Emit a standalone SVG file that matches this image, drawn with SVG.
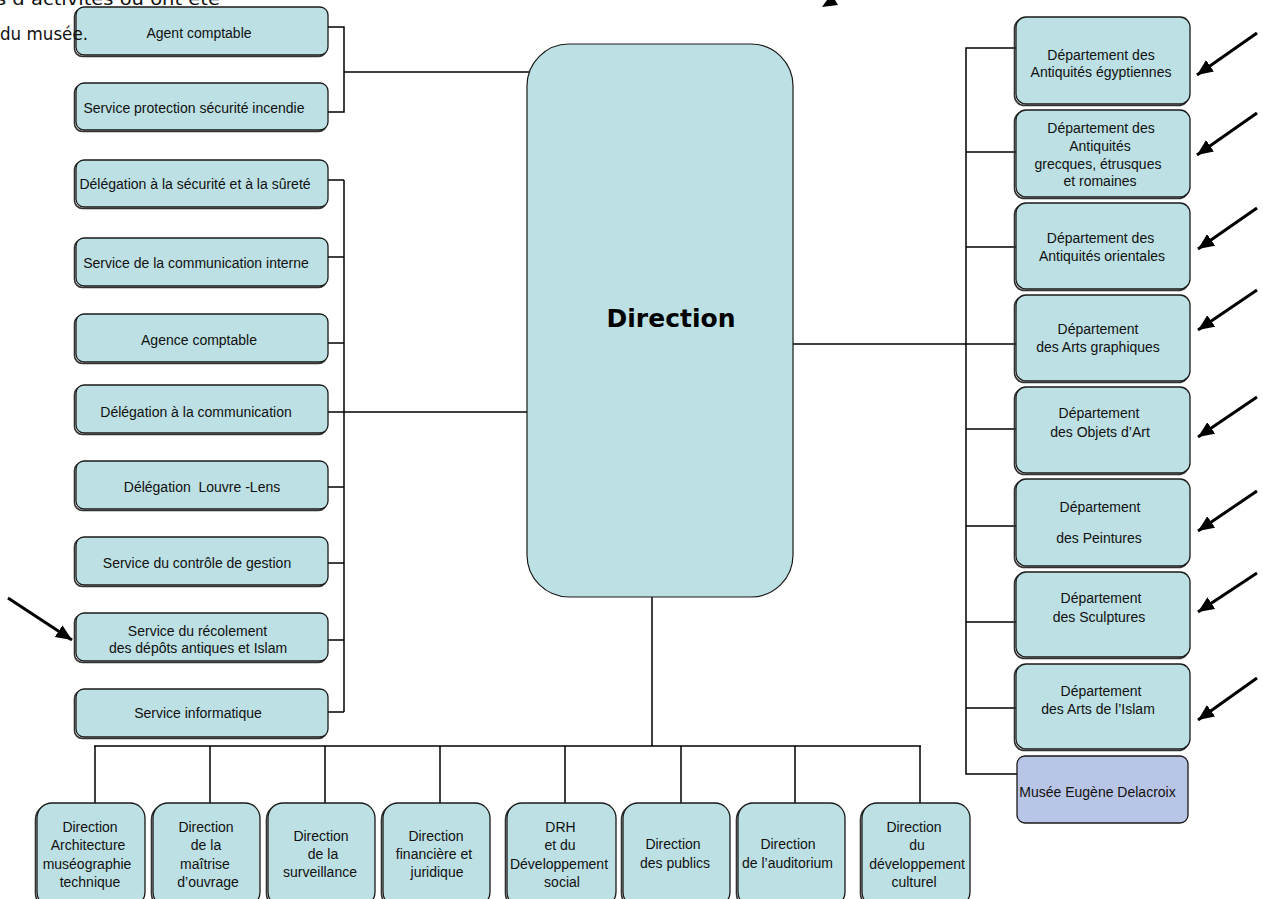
<svg xmlns="http://www.w3.org/2000/svg" width="1263" height="899" viewBox="0 0 1263 899">
<defs>
<style>
.bx{fill:#bce0e3;stroke:#1a1a1a;stroke-width:1.3}
.sh{fill:none;stroke:#333;stroke-width:1.6}
.mu{fill:#b9c5e6;stroke:#1a1a1a;stroke-width:1.3}
.t{font-family:"Liberation Sans",Arial,sans-serif;font-size:14px;fill:#111;text-anchor:middle}
.c{fill:none;stroke:#000;stroke-width:1.5}
.ar{fill:none;stroke:#000;stroke-width:3}
</style>
<marker id="ah" markerUnits="userSpaceOnUse" markerWidth="20" markerHeight="16" refX="16" refY="7" orient="auto">
<path d="M0,0 L16,7 L0,14 Z" fill="#000"/>
</marker>
</defs>
<rect width="1263" height="899" fill="#fff"/>

<g id="connectors">
<polyline class="c" points="328,27 344,27 344,112 328,112"/>
<line class="c" x1="344" y1="72" x2="530" y2="72"/>
<line class="c" x1="344" y1="180" x2="344" y2="712"/>
<line class="c" x1="328" y1="180" x2="344" y2="180"/>
<line class="c" x1="328" y1="257" x2="344" y2="257"/>
<line class="c" x1="328" y1="343" x2="344" y2="343"/>
<line class="c" x1="328" y1="412" x2="527" y2="412"/>
<line class="c" x1="328" y1="487" x2="344" y2="487"/>
<line class="c" x1="328" y1="563" x2="344" y2="563"/>
<line class="c" x1="328" y1="640" x2="344" y2="640"/>
<line class="c" x1="328" y1="712" x2="344" y2="712"/>
<line class="c" x1="793" y1="344" x2="966" y2="344"/>
<polyline class="c" points="1017,48 966,48 966,774 1017,774"/>
<line class="c" x1="966" y1="152" x2="1016" y2="152"/>
<line class="c" x1="966" y1="247" x2="1016" y2="247"/>
<line class="c" x1="966" y1="344" x2="1016" y2="344"/>
<line class="c" x1="966" y1="429" x2="1016" y2="429"/>
<line class="c" x1="966" y1="526" x2="1016" y2="526"/>
<line class="c" x1="966" y1="622" x2="1016" y2="622"/>
<line class="c" x1="966" y1="708" x2="1016" y2="708"/>
<line class="c" x1="652" y1="597" x2="652" y2="746"/>
<line class="c" x1="94" y1="746" x2="921" y2="746"/>
<line class="c" x1="95" y1="746" x2="95" y2="803"/>
<line class="c" x1="210" y1="746" x2="210" y2="803"/>
<line class="c" x1="325" y1="746" x2="325" y2="803"/>
<line class="c" x1="440" y1="746" x2="440" y2="803"/>
<line class="c" x1="565" y1="746" x2="565" y2="803"/>
<line class="c" x1="681" y1="746" x2="681" y2="803"/>
<line class="c" x1="795" y1="746" x2="795" y2="803"/>
<line class="c" x1="920" y1="746" x2="920" y2="803"/>
</g>

<g id="n-direction">
<rect x="527" y="44" width="266" height="553" rx="42" class="bx" style="stroke-width:1.2"/>
<text x="671" y="327" style="font-family:'DejaVu Sans',Verdana,sans-serif;font-weight:bold;font-size:25px;fill:#000;text-anchor:middle">Direction</text>
</g>

<g id="n-agent"><rect x="74.5" y="8.5" width="252" height="48" rx="8" class="sh"/><rect x="76" y="7" width="252" height="48" rx="8" class="bx"/><text x="199" y="38" class="t">Agent comptable</text></g>
<g id="n-spsi"><rect x="74.5" y="84.5" width="252" height="47" rx="8" class="sh"/><rect x="76" y="83" width="252" height="47" rx="8" class="bx"/><text x="194" y="113" class="t">Service protection sécurité incendie</text></g>
<g id="n-dss"><rect x="74.5" y="161.5" width="252" height="47" rx="8" class="sh"/><rect x="76" y="160" width="252" height="47" rx="8" class="bx"/><text x="195" y="189" class="t">Délégation à la sécurité et à la sûreté</text></g>
<g id="n-sci"><rect x="74.5" y="239.5" width="252" height="48" rx="8" class="sh"/><rect x="76" y="238" width="252" height="48" rx="8" class="bx"/><text x="196" y="268" class="t">Service de la communication interne</text></g>
<g id="n-ac"><rect x="74.5" y="315.5" width="252" height="48" rx="8" class="sh"/><rect x="76" y="314" width="252" height="48" rx="8" class="bx"/><text x="199" y="345" class="t">Agence comptable</text></g>
<g id="n-dc"><rect x="74.5" y="386.5" width="252" height="48" rx="8" class="sh"/><rect x="76" y="385" width="252" height="48" rx="8" class="bx"/><text x="196" y="417" class="t">Délégation à la communication</text></g>
<g id="n-dll"><rect x="74.5" y="462.5" width="252" height="48" rx="8" class="sh"/><rect x="76" y="461" width="252" height="48" rx="8" class="bx"/><text x="202" y="492" class="t" xml:space="preserve">Délégation  Louvre -Lens</text></g>
<g id="n-scg"><rect x="74.5" y="538.5" width="252" height="48" rx="8" class="sh"/><rect x="76" y="537" width="252" height="48" rx="8" class="bx"/><text x="197" y="568" class="t">Service du contrôle de gestion</text></g>
<g id="n-sr"><rect x="74.5" y="614.5" width="252" height="48" rx="8" class="sh"/><rect x="76" y="613" width="252" height="48" rx="8" class="bx"/><text x="197.5" y="636" class="t">Service du récolement</text><text x="198" y="653" class="t">des dépôts antiques et Islam</text></g>
<g id="n-si"><rect x="74.5" y="690.5" width="252" height="48" rx="8" class="sh"/><rect x="76" y="689" width="252" height="48" rx="8" class="bx"/><text x="198" y="718" class="t">Service informatique</text></g>

<g id="n-egy"><rect x="1014.5" y="18.5" width="174" height="87" rx="10" class="sh"/><rect x="1016" y="17" width="174" height="87" rx="10" class="bx"/><text x="1101" y="60" class="t">Département des</text><text x="1101" y="77" class="t">Antiquités égyptiennes</text></g>
<g id="n-grec"><rect x="1014.5" y="111.5" width="174" height="87" rx="10" class="sh"/><rect x="1016" y="110" width="174" height="87" rx="10" class="bx"/><text x="1101" y="133" class="t">Département des</text><text x="1100" y="150.5" class="t">Antiquités</text><text x="1098" y="168.5" class="t">grecques, étrusques</text><text x="1100" y="186" class="t">et romaines</text></g>
<g id="n-orient"><rect x="1014.5" y="204.5" width="174" height="86" rx="10" class="sh"/><rect x="1016" y="203" width="174" height="86" rx="10" class="bx"/><text x="1100.5" y="243" class="t">Département des</text><text x="1102" y="261" class="t">Antiquités orientales</text></g>
<g id="n-graph"><rect x="1014.5" y="296.5" width="174" height="86" rx="10" class="sh"/><rect x="1016" y="295" width="174" height="86" rx="10" class="bx"/><text x="1098" y="334" class="t">Département</text><text x="1098" y="352" class="t">des Arts graphiques</text></g>
<g id="n-objets"><rect x="1014.5" y="388.5" width="174" height="86" rx="10" class="sh"/><rect x="1016" y="387" width="174" height="86" rx="10" class="bx"/><text x="1099" y="418" class="t">Département</text><text x="1100" y="437" class="t">des Objets d’Art</text></g>
<g id="n-peint"><rect x="1014.5" y="480.5" width="174" height="87" rx="10" class="sh"/><rect x="1016" y="479" width="174" height="87" rx="10" class="bx"/><text x="1100" y="512" class="t">Département</text><text x="1099" y="543" class="t">des Peintures</text></g>
<g id="n-sculpt"><rect x="1014.5" y="573.5" width="174" height="85" rx="10" class="sh"/><rect x="1016" y="572" width="174" height="85" rx="10" class="bx"/><text x="1101" y="603" class="t">Département</text><text x="1099" y="622" class="t">des Sculptures</text></g>
<g id="n-islam"><rect x="1014.5" y="665.5" width="174" height="85" rx="10" class="sh"/><rect x="1016" y="664" width="174" height="85" rx="10" class="bx"/><text x="1101" y="696" class="t">Département</text><text x="1098" y="714" class="t">des Arts de l’Islam</text></g>
<g id="n-delacroix"><rect x="1017" y="756" width="171" height="67" rx="8" class="mu"/><text x="1097.5" y="797" class="t">Musée Eugène Delacroix</text></g>

<g id="n-archi"><rect x="35.5" y="804.5" width="108" height="104" rx="15" class="sh"/><rect x="37" y="803" width="108" height="104" rx="15" class="bx"/><text x="90" y="832" class="t">Direction</text><text x="88" y="850" class="t">Architecture</text><text x="87" y="869" class="t">muséographie</text><text x="90" y="887" class="t">technique</text></g>
<g id="n-moa"><rect x="151.5" y="804.5" width="107" height="104" rx="15" class="sh"/><rect x="153" y="803" width="107" height="104" rx="15" class="bx"/><text x="206" y="832" class="t">Direction</text><text x="206" y="850" class="t"> de la</text><text x="205" y="869" class="t">maîtrise</text><text x="208" y="887" class="t">d’ouvrage</text></g>
<g id="n-surv"><rect x="266.5" y="804.5" width="107" height="104" rx="15" class="sh"/><rect x="268" y="803" width="107" height="104" rx="15" class="bx"/><text x="321" y="841" class="t">Direction</text><text x="323" y="859" class="t">de la</text><text x="320" y="877" class="t">surveillance</text></g>
<g id="n-fin"><rect x="381.5" y="804.5" width="107" height="104" rx="15" class="sh"/><rect x="383" y="803" width="107" height="104" rx="15" class="bx"/><text x="436" y="841" class="t">Direction</text><text x="434" y="859" class="t">financière et</text><text x="437" y="877" class="t">juridique</text></g>
<g id="n-drh"><rect x="505.5" y="804.5" width="109" height="104" rx="15" class="sh"/><rect x="507" y="803" width="109" height="104" rx="15" class="bx"/><text x="560.5" y="832" class="t">DRH</text><text x="560" y="850" class="t">et du</text><text x="559" y="869" class="t">Développement</text><text x="562" y="887" class="t">social</text></g>
<g id="n-publics"><rect x="621.5" y="804.5" width="107" height="104" rx="15" class="sh"/><rect x="623" y="803" width="107" height="104" rx="15" class="bx"/><text x="673" y="849" class="t">Direction</text><text x="675" y="868" class="t">des publics</text></g>
<g id="n-audit"><rect x="736.5" y="804.5" width="107" height="104" rx="15" class="sh"/><rect x="738" y="803" width="107" height="104" rx="15" class="bx"/><text x="788" y="849" class="t">Direction</text><text x="787.5" y="868" class="t">de l’auditorium</text></g>
<g id="n-culturel"><rect x="860.5" y="804.5" width="108" height="104" rx="15" class="sh"/><rect x="862" y="803" width="108" height="104" rx="15" class="bx"/><text x="914" y="832" class="t">Direction</text><text x="917" y="850" class="t">du</text><text x="917" y="869" class="t">développement</text><text x="914" y="887" class="t">culturel</text></g>

<g id="arrows">
<line class="ar" x1="1257" y1="33" x2="1197" y2="75" marker-end="url(#ah)"/>
<line class="ar" x1="1257" y1="113" x2="1197" y2="155" marker-end="url(#ah)"/>
<line class="ar" x1="1257" y1="208" x2="1198" y2="249" marker-end="url(#ah)"/>
<line class="ar" x1="1257" y1="290" x2="1198" y2="330" marker-end="url(#ah)"/>
<line class="ar" x1="1257" y1="397" x2="1198" y2="437" marker-end="url(#ah)"/>
<line class="ar" x1="1257" y1="491" x2="1198" y2="531" marker-end="url(#ah)"/>
<line class="ar" x1="1257" y1="573" x2="1198" y2="612" marker-end="url(#ah)"/>
<line class="ar" x1="1257" y1="678" x2="1198" y2="720" marker-end="url(#ah)"/>
<line class="ar" x1="8" y1="598" x2="72" y2="640" marker-end="url(#ah)"/>
<polygon points="822,7 827,0 835,0 838,5" fill="#000"/>
</g>

<g id="page-text" style="font-family:'DejaVu Sans',Verdana,sans-serif;font-size:18px;fill:#111">
<text x="-4" y="5" textLength="224" lengthAdjust="spacingAndGlyphs">s d’activités ou ont été</text>
<text x="0" y="40" textLength="88" lengthAdjust="spacingAndGlyphs">du musée.</text>
</g>
</svg>
